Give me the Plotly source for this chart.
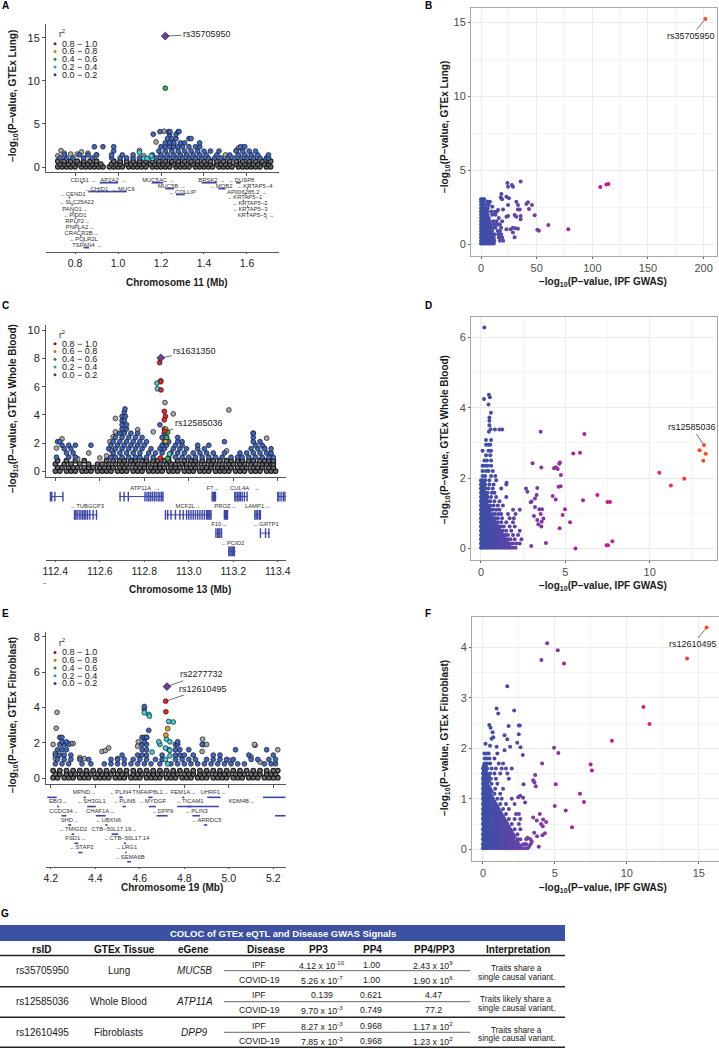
import plotly.graph_objects as go

W, H = 719, 1049
SANS = "Liberation Sans"

# ---------- Panel A: chr 11 locus, rows are {y: [Mb, ...]} ----------
a_band = {
 .02:[.72,.74,.76,.78,.8,.83,.85,.87,.89,.91,.93,.96,.98,1,1.02,1.05,1.07,1.09,1.11,1.13,1.16,1.18,1.2,1.22,1.24,1.27,1.29,1.31,1.33,1.36,1.38,1.4,1.42,1.44,1.47,1.49,1.51,1.53,1.56,1.58,1.6,1.62,1.64,1.66,1.69,1.71],
 .35:[.73,.75,.77,.79,.82,.84,.86,.88,.9,.92,.97,.99,1.01,1.04,1.06,1.08,1.1,1.12,1.15,1.17,1.19,1.21,1.23,1.26,1.28,1.3,1.32,1.35,1.37,1.39,1.41,1.43,1.46,1.48,1.5,1.52,1.55,1.57,1.59,1.61,1.63,1.65,1.68,1.7],
 .68:[.72,.75,.78,.81,.84,.87,.9,.98,1.01,1.04,1.07,1.1,1.13,1.16,1.19,1.22,1.25,1.28,1.31,1.34,1.37,1.4,1.43,1.46,1.49,1.52,1.55,1.58,1.61,1.64,1.67,1.7,1.71],
}
a_blue = {
 1.05:[.73,.76,.79,.84,.88,.97,1.01,1.04,1.07,1.1,1.18,1.21,1.24,1.27,1.3,1.33,1.36,1.39,1.42,1.45,1.48,1.51,1.54,1.57,1.6,1.63,1.66,1.69,1.7],
 1.4:[.75,.82,.86,.9,.97,1.02,1.07,1.16,1.2,1.23,1.26,1.29,1.32,1.35,1.38,1.41,1.46,1.52,1.56,1.59,1.62,1.65,1.7],
 1.85:[.98,1.19,1.22,1.25,1.28,1.31,1.34,1.37,1.4,1.43,1.47,1.55,1.58,1.61,1.64],
 2.35:[.89,.93,.98,1.2,1.22,1.24,1.26,1.28,1.3,1.33,1.36,1.38,1.57,1.59],
 2.8:[1.22,1.24,1.26,1.29,1.31,1.38],
 3.3:[1.23,1.25,1.27,1.33,1.34],
 3.8:[1.164,1.24,1.27],
 4.1:[1.195,1.235,1.242,1.28,1.284],
}
a_grey_x = [.735,.72,.78,.81,.86,.83,1.1,1.177,1.214,1.56,1.58,1.55,.9,.75,1.12,1.5]
a_grey_y = [1.9,1.3,1.5,1.5,1.6,1.75,1.9,2.9,4.15,2.2,2.3,1.9,1.4,1.6,1.3,1.4]
a_cyan_x = [1.1,1.12,1.135,1.16,1.155]
a_cyan_y = [1.7,1.0,1.0,1.0,1.3]
a_green_x, a_green_y = [1.22], [9.15]
a_lead_x, a_lead_y = [1.22], [15.2]

a_gene_names = ["CD151 →","AP2A2 →","MUC5AC →","BRSK2 →","←DUSP8","MUC5B →","←MOB2","←KRTAP5−4","←CHID1","←MUC6","←COLLIP","AP006285.2 →","←CEND1","←KRTAP5−1","←SLC25A22","←KRTAP5−2","PANO1→","←KRTAP5−3","←PIDD1","KRTAP5−5 →","RPLP2→","PNPLA2→","CRACR2B→","←POLR2L","TSPAN4 →"]
a_gene_label_mb = [.839,.978,1.188,1.436,1.575,1.25,1.48,1.637,.9,1.025,1.3,1.6,.79,1.59,.808,1.614,.8,1.614,.8,1.642,.812,.823,.83,.84,.857]
a_gene_track = [0,0,0,0,0,1,1,1,1.5,1.5,2,2,2.5,3,3.7,4,5,5,6,6,7,8,9,10,11]
a_gene_start = [.828,.915,1.156,1.389,1.55,1.22,1.467,1.6,.862,.905,1.27,1.59,.77,1.58,.784,1.6,.789,1.6,.8,1.69,.806,.816,.824,.836,.84]
a_gene_end = [.836,1.0,1.21,1.46,1.57,1.26,1.5,1.605,.913,1.04,1.31,1.595,.778,1.585,.79,1.605,.795,1.605,.805,1.693,.81,.82,.83,.84,.865]

# ---------- Panel B: scatter, rows {y: [x, ...]} ----------
b_rows = {
 .03:[0,1,2.5,4,5.5,7,8.5,10,11.5],
 .22:[0,1,2.5,4,5.5,7,8.5,10,12,17,20],
 .44:[0,1,2.5,4,5.5,7,8.5,10,11.5,16,18,19],
 .66:[0,1,2.5,4,5.5,7,8.5,10,12,15.5,18],
 .88:[0,1,2.5,4,5.5,7,8.5,10,15,17],
 1.1:[0,1,2.5,4,5.5,7,8.5,11,13,18],
 1.32:[0,1,2.5,4,5.5,7.5,9,12,15,17],
 1.54:[0,1,2.5,4,6,8,11,14,19],
 1.76:[0,1,2.5,4,5.5,7,16],
 1.98:[0,1,2.5,4,6,10,13],
 2.2:[0,1,2.5,4,5.5,9,14],
 2.42:[0,1,2.5,4,6],
 2.64:[0,1,2.5,4,7],
 2.86:[0,1,2.5,6,8],
 3.02:[0,1.5,3],
}
b_x = [201.5,107.2,112.6,114.4,78.4,60.5,50.6,52,35.6,23.7,24.3,27.8,28.7,48.2,45.8,42.2,40.7,43.1,35.6,35.6,33.2,34.8,31.7,33.2,30.2,31.7,28.7,31.1,33.2,26.6,28.7,30.2,22.8,22.8,24.3,24.3,25.1,22.8,18.3,17.7,18.9,19.8,15.3,12.3,10.2,6.3,2.4]
b_y = [15.2,3.85,4.03,4.05,1,1.28,.97,.9,4.23,4.12,3.87,3.99,3.87,1.94,2.63,2.82,2.7,2.36,1.89,1.67,2.34,2.34,2.86,2.63,1.96,1.85,1.1,1.06,1.04,1,.77,.45,1,1.85,1.89,2.63,3.09,3.2,3.38,3.15,3.02,2.34,2.3,2.18,2.52,2.8,3]

# ---------- Panel C: chr 13 locus (Mb above 112) ----------
c_base = 112.0
c_band = {
 .02:[.4,.42,.45,.47,.49,.52,.54,.56,.59,.61,.63,.65,.68,.7,.72,.75,.77,.79,.82,.84,.86,.88,.91,.93,.95,.98,1,1.02,1.05,1.07,1.09,1.12,1.14,1.16,1.18,1.21,1.23,1.25,1.28,1.3,1.32,1.35,1.37,1.39],
 .27:[.41,.43,.46,.48,.5,.53,.55,.57,.6,.62,.64,.66,.69,.71,.73,.76,.78,.8,.83,.85,.87,.89,.92,.94,.96,.99,1.01,1.03,1.06,1.08,1.1,1.13,1.15,1.17,1.19,1.22,1.24,1.26,1.29,1.31,1.33,1.36,1.38],
 .52:[.4,.44,.47,.51,.55,.59,.61,.64,.67,.7,.72,.75,.77,.8,.82,.85,.87,.9,.92,.94,.97,.99,1.02,1.04,1.07,1.1,1.12,1.15,1.18,1.2,1.23,1.25,1.28,1.3,1.33,1.35,1.37,1.38],
 .76:[.41,.45,.49,.53,.63,.66,.69,.71,.74,.76,.79,.81,.84,.86,.89,.91,.95,.98,1.01,1.03,1.06,1.09,1.11,1.14,1.17,1.19,1.22,1.24,1.27,1.29,1.32,1.34,1.36,1.38],
}
c_blue = {
 1.0:[.405,.46,.49,.65,.67,.7,.73,.76,.78,.81,.84,.91,.94,.97,1,1.03,1.06,1.09,1.12,1.15,1.19,1.22,1.24,1.27,1.3,1.33,1.36,1.38],
 1.3:[.45,.48,.66,.69,.72,.75,.78,.82,.85,.88,.92,.95,.98,1.02,1.05,1.08,1.11,1.16,1.23,1.26,1.29,1.32,1.35,1.37],
 1.6:[.44,.47,.64,.67,.7,.73,.76,.79,.83,.87,.89,.93,.96,.99,1.04,1.07,1.28,1.31,1.34,1.37],
 1.85:[.43,.46,.49,.56,.65,.68,.71,.74,.77,.8,.88,.9,.94,.97,1.04,1.09,1.3,1.33],
 2.1:[.41,.42,.66,.69,.72,.75,.78,.81,.89,.91,.95,.97,1.16,1.29,1.32],
 2.4:[.67,.7,.73,.76,.79,.88,.9,.95,1.29],
 2.7:[.69,.71,.74,.77,.89,1.29],
 3.0:[.7,.72,.89],
 3.3:[.7,.72,.87],
 3.6:[.7,.71],
 3.9:[.7,.715],
 4.2:[.71],
 4.42:[.713],
}
c_grey_x = [.43,.405,.67,.675,.67,.66,.645,.77,.84,.893,.93,1.18,1.35,1.29,1.34,1.17,.5,.55,.6,.63,.65]
c_grey_y = [2.3,1.65,3.75,2.7,2.8,2.45,2.1,2.95,2.8,4.87,4.07,4.35,2.35,2.7,1.65,1.45,.9,1.3,.95,1.1,1.5]
c_red_x = [.869,.874,.875,.89,.895,.89,.892,.872]
c_red_y = [7.7,6.35,5.77,4.25,3.9,3.65,2.85,.95]
c_orange_x = [.874,.896,.896]
c_orange_y = [6.42,3.0,2.13]
c_green_x = [.905,.9,.905]
c_green_y = [2.77,2.4,.9]
c_cyan_x = [.857,.859,.913]
c_cyan_y = [6.25,5.85,1.23]
c_lead_x, c_lead_y = [.874], [8.04]

c_gene_names = ["ATP11A  →","F7→","CUL4A   →","←TUBGCP3","MCF2L→","PROZ→","LAMP1→","F10→","←GRTP1","←PCID2"]
c_gene_label_mb = [.804,1.108,1.252,.543,.997,1.165,1.309,1.137,1.348,1.197]
c_gene_track = [0,0,0,1,1,1,1,2,2,3]
c_body_track = [0,0,0,0,0,1,1,1,1,2,2,3]
c_body_start = [.376,.688,1.103,1.205,1.398,.484,.893,1.157,1.294,1.12,1.32,1.177]
c_body_end = [.436,.886,1.123,1.264,1.437,.59,1.1,1.175,1.324,1.15,1.365,1.21]
c_exons = [
 [.378,.384,.398,.434],
 [.691,.709,.728,.803,.812,.82,.828,.836,.845,.853,.862,.87,.878,.884],
 [1.105,1.11,1.115,1.12],
 [1.207,1.212,1.22,1.226,1.232,1.24,1.25,1.262],
 [1.4,1.405,1.415,1.425,1.432],
 [.486,.492,.498,.507,.515,.523,.53,.537,.545,.555,.57,.585],
 [.895,.905,.92,.94,.96,.975,.99,1,1.01,1.02,1.03,1.04,1.05,1.06,1.07,1.08,1.085,1.09,1.095,1.1],
 [1.16,1.165,1.17,1.174],
 [1.297,1.303,1.31,1.318,1.322],
 [1.122,1.13,1.135,1.14,1.147],
 [1.322,1.345,1.36],
 [1.18,1.185,1.19,1.195,1.2,1.205],
]

# ---------- Panel D ----------
d_rows = {
 .02:[0,.1,.25,.4,.55,.7,.85,1,1.15,1.3,1.45,1.6,1.75,1.9,2.05],
 .08:[.05,.18,.32,.48,.62,.78,.92,1.08,1.22,1.38,1.52,1.68],
 .14:[0,.1,.25,.4,.55,.7,.85,1,1.15,1.3,1.45,1.6,1.75,1.9,2.1,2.3],
 .2:[.05,.18,.32,.48,.62,.78,.92,1.08,1.22,1.38,1.52],
 .26:[0,.1,.25,.4,.55,.7,.85,1,1.15,1.3,1.45,1.6,1.75,2,2.4],
 .32:[.05,.18,.32,.48,.62,.78,.92,1.08,1.22,1.38],
 .38:[0,.1,.25,.4,.55,.7,.85,1,1.15,1.3,1.45,1.6,1.9,2.2],
 .44:[.05,.18,.32,.48,.62,.78,.92,1.08,1.22],
 .5:[0,.1,.25,.4,.55,.7,.85,1,1.15,1.3,1.5,1.8,2.3],
 .56:[.05,.18,.32,.48,.62,.78,.92,1.08],
 .62:[0,.1,.25,.4,.55,.7,.85,1,1.15,1.35,1.7,2],
 .68:[.05,.18,.32,.48,.62,.78,.92],
 .74:[0,.1,.25,.4,.55,.7,.85,1,1.2,1.5,1.9],
 .8:[.05,.18,.32,.48,.62,.78],
 .86:[0,.1,.25,.4,.55,.7,.85,1,1.25,1.7,1.95],
 .92:[.05,.18,.32,.48,.62],
 .98:[0,.1,.25,.4,.55,.7,.85,1.05,1.2,1.6,2.05],
 1.04:[.05,.18,.32,.48],
 1.1:[0,.1,.25,.4,.55,.7,.9,1.1,1.9,2.3],
 1.16:[.05,.18,.32,.48],
 1.22:[0,.1,.25,.4,.55,.75,1,1.3],
 1.28:[.05,.18,.32],
 1.34:[0,.1,.25,.4,.55,.8,1.1],
 1.4:[.05,.18,.32],
 1.46:[0,.1,.25,.4,.6,.9,1.5],
 1.52:[.05,.18,.32],
 1.58:[0,.1,.25,.4,.65,.8],
 1.64:[.05,.18],
 1.7:[0,.1,.25,.45,.7,1.2],
 1.76:[.05,.18],
 1.82:[0,.1,.25,.5,.75,1.5],
 1.88:[.05,.18],
 1.94:[0,.1,.25,.5,.9],
 2.06:[.1,.25,.6,.85],
 2.2:[.1,.3,.45,.7],
 2.35:[.1,.25,.4,.6],
 2.5:[.2,.35,.6],
 2.65:[.3,.55],
 2.78:[.1,.45,.6],
 2.95:[.3,.45,.55],
 3.08:[.3,.6],
}
d_x = [.2,.18,.47,.53,.45,.59,.5,.5,.5,.47,.57,.83,1.09,1.26,3.54,6.13,5.47,5.87,3.06,3.58,4.33,4.45,4.68,4.64,4.74,4.55,4.4,4.6,4.72,3.34,2.67,2.75,3.3,3.2,3,2.95,4.25,4.43,6.05,6.9,7.5,7.65,3.2,3.46,3.62,3.54,3.14,3.7,3.34,3.6,3.4,3.58,4.98,4.84,5.28,4.66,3.85,2.98,5.6,7.45,7.53,7.79,10.57,11.26,12.05,12.96,13.22,13.32,13.18,1.52]
d_y = [6.28,4.25,4.37,4.3,4.09,3.86,3.72,3.63,3.5,3.32,3.39,3.38,3.38,3.38,3.32,3.25,2.7,2.72,2.42,2.3,2.28,2.3,2.44,2.41,2.09,2.26,2.3,1.75,1.77,1.72,1.7,1.61,1.52,1.42,1.33,1.31,1.49,1.39,1.37,1.52,1.32,1.32,1.18,1.11,1.11,.98,.92,.85,.81,.76,.69,.62,1.11,.95,.74,.57,.15,.07,0,.09,.09,.2,2.15,1.79,1.98,2.79,2.94,2.69,2.49,1.87]

# ---------- Panel E: chr 19 locus ----------
e_band = {
 .02:[4.21,4.23,4.26,4.28,4.3,4.33,4.35,4.37,4.4,4.42,4.44,4.46,4.49,4.51,4.53,4.56,4.58,4.6,4.63,4.65,4.67,4.69,4.72,4.74,4.76,4.79,4.81,4.83,4.86,4.88,4.9,4.93,4.95,4.97,4.99,5.02,5.04,5.06,5.09,5.11,5.13,5.16,5.18,5.2,5.22],
 .22:[4.22,4.24,4.27,4.29,4.31,4.34,4.36,4.38,4.41,4.43,4.45,4.47,4.5,4.52,4.54,4.57,4.59,4.61,4.64,4.66,4.68,4.7,4.73,4.75,4.77,4.8,4.82,4.84,4.87,4.89,4.91,4.94,4.96,4.98,5,5.03,5.05,5.07,5.1,5.12,5.14,5.17,5.19,5.21],
 .42:[4.21,4.24,4.27,4.3,4.33,4.36,4.39,4.42,4.45,4.48,4.51,4.54,4.57,4.6,4.63,4.66,4.69,4.72,4.75,4.78,4.81,4.84,4.87,4.9,4.93,4.96,4.99,5.02,5.05,5.08,5.11,5.14,5.17,5.2,5.22],
}
e_blue = {
 .8:[4.22,4.25,4.28,4.34,4.38,4.44,4.47,4.5,4.53,4.56,4.59,4.62,4.65,4.69,4.74,4.77,4.8,4.83,4.86,4.89,4.92,4.95,4.98,5.01,5.04,5.07,5.16,5.19,5.21],
 1.05:[4.23,4.26,4.29,4.33,4.37,4.47,4.5,4.53,4.57,4.6,4.63,4.67,4.7,4.76,4.79,4.82,4.85,4.9,4.93,4.96,4.99,5.02,5.1,5.13,5.18,5.21],
 1.3:[4.22,4.24,4.26,4.29,4.52,4.59,4.61,4.63,4.7,4.76,4.78,4.8,4.84,4.93,4.96,5.09,5.2],
 1.6:[4.23,4.25,4.27,4.61,4.63,4.73,4.76,4.78,4.82,5.03,5.17],
 1.9:[4.24,4.26,4.28,4.61,4.63,4.76,4.77,4.88],
 2.05:[4.25,4.27,4.62,4.77],
 2.3:[4.24,4.25,4.61,4.62,4.63,4.63],
 2.7:[4.64],
 3.9:[4.62],
 4.05:[4.62],
}
e_grey_x = [4.228,4.224,4.21,4.882,4.885,4.9,5.118,5.115,4.593,4.59,4.43,4.445,4.46,4.3,4.29,4.22,4.35,4.33,5.1,5.14,5.0,4.88,4.5,5.22,4.22]
e_grey_y = [3.72,2.82,1.9,2.2,1.9,1.9,1.85,1.9,2.05,1.8,1.5,1.55,1.7,1.95,1.95,1.4,1.1,1.15,1.2,.9,1,1.5,1.1,1.6,1.1]
e_cyan_x = [4.62,4.64,4.643,4.73,4.75,4.72,4.69,4.735,4.685,4.715,4.735,4.715,4.725,4.735,4.655]
e_cyan_y = [3.7,3.6,3.5,3.2,3.17,2.2,1.9,2.05,2.05,1.7,1.57,1.05,.8,1.25,1.47]
e_orange_x = [4.725,4.717]
e_orange_y = [2.8,2.43]
e_red_x = [4.716,4.717]
e_red_y = [4.35,3.75]
e_lead_x, e_lead_y = [4.722], [5.18]

e_gene_names = ["MPND→","←PLIN4","TNFAIP8L1→","FEM1A→","UHRF1→","EBI3→","←SH3GL1","←PLIN5","←MYDGF","←TICAM1","KDM4B→","CCDC94→","CHAF1A→","←DPP9","←PLIN3","SHD→","←UBXN6","←ARRDC5","←TMIGD2","CTB−50L17.19→","FSD1→","←CTB−50L17.14","←STAP2","←LRG1","←SEMA6B"]
e_gene_label_mb = [4.351,4.513,4.648,4.795,4.93,4.233,4.383,4.531,4.657,4.825,5.058,4.259,4.423,4.702,4.855,4.285,4.458,4.9,4.3,4.485,4.312,4.54,4.338,4.54,4.555]
e_gene_track = [0,0,0,0,0,1,1,1,1,1,1,2,2,2,2,3,3,3,4,4,5,5,6,6,7]
e_gene_start = [4.346,4.508,4.638,4.79,4.903,4.228,4.363,4.522,4.64,4.813,4.768,4.248,4.402,4.675,4.836,4.278,4.444,4.888,4.293,4.473,4.305,4.528,4.323,4.534,4.543]
e_gene_end = [4.357,4.523,4.657,4.8,4.963,4.237,4.402,4.537,4.672,4.833,4.955,4.27,4.447,4.725,4.87,4.291,4.455,4.903,4.305,4.503,4.323,4.538,4.342,4.541,4.56]
e_extra_track = [0,0,2]
e_extra_start = [4.184,5.153,5.208]
e_extra_end = [4.226,5.255,5.255]

# ---------- Panel F ----------
f_rows = {
 .02:[0,.12,.3,.5,.7,.9,1.1,1.3,1.5,1.7,1.9,2.1,2.3,2.5,2.7,2.9,3.1],
 .06:[.05,.2,.4,.6,.8,1,1.2,1.4,1.6,1.8,2,2.2,2.4,2.6],
 .1:[0,.12,.3,.5,.7,.9,1.1,1.3,1.5,1.7,1.9,2.1,2.3,2.5,2.8,3,3.3],
 .15:[.05,.2,.4,.6,.8,1,1.2,1.4,1.6,1.8,2,2.2,2.4],
 .2:[0,.12,.3,.5,.7,.9,1.1,1.3,1.5,1.7,1.9,2.1,2.4,2.6,3],
 .25:[.05,.2,.4,.6,.8,1,1.2,1.4,1.6,1.8,2,2.2],
 .3:[0,.12,.3,.5,.7,.9,1.1,1.3,1.5,1.7,1.9,2.1,2.4],
 .35:[.05,.2,.4,.6,.8,1,1.2,1.4,1.6,1.8,2],
 .4:[0,.12,.3,.5,.7,.9,1.1,1.3,1.5,1.7,1.9,2.2,2.6],
 .45:[.05,.2,.4,.6,.8,1,1.2,1.4,1.6,1.8],
 .5:[0,.12,.3,.5,.7,.9,1.1,1.3,1.5,1.7,2,2.5],
 .55:[.05,.2,.4,.6,.8,1,1.2,1.4,1.6],
 .6:[0,.12,.3,.5,.7,.9,1.1,1.3,1.5,1.8,2.2,2.6],
 .65:[.05,.2,.4,.6,.8,1,1.2,1.4],
 .7:[0,.12,.3,.5,.7,.9,1.1,1.3,1.6,2.3,2.5],
 .75:[.05,.2,.4,.6,.8,1,1.2],
 .8:[0,.12,.3,.5,.7,.9,1.1,1.4,1.8],
 .85:[.05,.2,.4,.6,.8,1],
 .9:[0,.12,.3,.5,.7,.9,1.2,1.6,2.2],
 .95:[.05,.2,.4,.6,.8],
 1.0:[0,.12,.3,.5,.7,1,1.3,2],
 1.05:[.05,.2,.4,.6],
 1.1:[0,.12,.3,.5,.8,1.2],
 1.15:[.05,.2,.4,.6],
 1.2:[0,.12,.3,.5,.85,1.4],
 1.25:[.05,.2,.4],
 1.3:[0,.12,.3,.6,1],
 1.35:[.05,.2,.4],
 1.4:[0,.12,.3,.55,.9,1.8],
 1.45:[.05,.2,.4],
 1.5:[0,.12,.3,.5,.8,1.2,1.7],
 1.55:[.05,.2],
 1.6:[0,.12,.3,.6,.9,1.3,1.6],
 1.65:[.05,.2],
 1.7:[.12,.3,.5,1.1,1.4],
 1.8:[.12,.25,.45,.8],
 1.9:[.1,.25,.4,1],
}
f_x = [15.54,14.18,11.15,11.57,8.96,7.48,7.57,6.74,7.02,5.75,6.19,4.99,4.46,5.2,4.06,5.63,1.69,.95,1.06,2.17,1.78,2.49,2.56,2.49,1.5,1.69,2.38,2.61,1.89,2.77,1.5,4.94,5.24,4.11,3.63,3.49,3.58,3.67,2.82,5.06,2,2.59,2.79,2.93,2.45,3.95,3.49,3.74,4.18,4.39,4.04,4.16,3.56,3.76,4.3,4.13,3.88,.44,.53,.67,.72,.6,.18,.49,.95,3.1,3.3,3.4,2.95,3.2]
f_y = [4.39,3.78,2.82,2.48,2.15,1.68,1.56,1.1,.94,.77,.44,.86,4.08,3.94,3.75,3.68,3.23,2.79,2.69,2.75,2.44,2.45,2.45,2.28,2.26,2.18,2.11,2.02,2.03,1.87,1.96,2.01,1.91,1.7,1.47,1.37,1.33,1.25,1.29,1.29,1.6,1.06,1.02,.93,1.03,.7,.63,.57,.59,.54,.5,.46,.33,.26,.32,.28,.05,2.46,2.41,2.32,2.22,2.19,2.09,2.05,2.03,.23,.2,.15,.1,.05]

# ---------- Panel G: table ----------
t_title = "COLOC of GTEx eQTL and Disease GWAS Signals"
t_columns = ["rsID","GTEx Tissue","eGene","Disease","PP3","PP4","PP4/PP3","Interpretation"]
t_rsid = ["rs35705950","rs12585036","rs12610495"]
t_tissue = ["Lung","Whole Blood","Fibroblasts"]
t_egene = ["MUC5B","ATP11A","DPP9"]
t_disease = ["IPF","COVID-19"]
t_pp3 = ["4.12 x 10<sup>-10</sup>","5.26 x 10<sup>-7</sup>","0.139","9.70 x 10<sup>-3</sup>","8.27 x 10<sup>-3</sup>","7.85 x 10<sup>-3</sup>"]
t_pp4 = ["1.00","1.00","0.621","0.749","0.968","0.968"]
t_ratio = ["2.43 x 10<sup>9</sup>","1.90 x 10<sup>6</sup>","4.47","77.2","1.17 x 10<sup>2</sup>","1.23 x 10<sup>2</sup>"]
t_interp = [["Traits share a","single causal variant."],["Traits likely share a","single causal variant."],["Traits share a","single causal variant."]]

r2_labels = ["0.8 − 1.0","0.6 − 0.8","0.4 − 0.6","0.2 − 0.4","0.0 − 0.2"]

# ---------- styles ----------
BLUE, GREY, BAND = "#3f68c4", "#a8a8a8", "#6e6e6e"
CYAN, GREEN, ORANGE, RED, PURPLE = "#3fd0d8", "#30b848", "#f0a020", "#ee2222", "#6f3f9f"
LEG = ["#8b1a1a", "#c57f12", "#2b8a3e", "#3a9aa0", "#333d86"]
GENE = "#3c46a8"
SCALE = [[0, "#3a50a8"], [.25, "#7b3aa6"], [.5, "#c0189c"], [.75, "#f01a6c"], [1, "#ff4a1a"]]
TXT = "#1a1a1a"
GENE_FONT = 5.9


def expand(rows, base=0.0):
    xs, ys = [], []
    for y, vals in rows.items():
        for v in vals:
            xs.append(v + base)
            ys.append(y)
    return xs, ys


def dom_x(l, r):
    return [l / W, r / W]


def dom_y(t, b):
    return [1 - b / H, 1 - t / H]


fig = go.Figure()
annots, shapes = [], []


def txt(x, y, s, size=9, color=TXT, anchor="center", angle=0):
    annots.append(dict(x=x / W, y=1 - y / H, xref="paper", yref="paper", text=s, showarrow=False,
                       xanchor=anchor, yanchor="middle", textangle=angle,
                       font=dict(family=SANS, size=size, color=color)))


def hline(x0, x1, y, color="#222", width=1.5):
    shapes.append(dict(type="line", xref="paper", yref="paper", x0=x0 / W, x1=x1 / W,
                       y0=1 - y / H, y1=1 - y / H, line=dict(color=color, width=width)))


def pts(xs, ys, color, ax, size=4.8, symbol="circle", lw=.7):
    fig.add_trace(go.Scatter(x=xs, y=ys, mode="markers", xaxis=ax[0], yaxis=ax[1], cliponaxis=False,
                             marker=dict(color=color, size=size, symbol=symbol,
                                         line=dict(color="#15151c", width=lw))))


def leader(x, y, dx, dy, s, ax):
    annots.append(dict(x=x, y=y, xref=ax[0], yref=ax[1], ax=dx, ay=dy, text=s, showarrow=True,
                       arrowhead=0, arrowwidth=.7, arrowcolor="#333", standoff=2,
                       font=dict(family=SANS, size=9, color=TXT)))


def legend(top):
    txt(62, top, "r<sup>2</sup>", 8.5)
    for i, lab in enumerate(r2_labels):
        yy = top + 9.7 + 7.75 * i
        shapes.append(dict(type="circle", xref="paper", yref="paper",
                           x0=53.5 / W, x1=56.5 / W, y0=1 - (yy + 1.5) / H, y1=1 - (yy - 1.5) / H,
                           fillcolor=LEG[i], line=dict(width=0)))
        txt(60, yy, lab, 9, anchor="left")


def gene_bars(starts, ends, tracks, off, ax, width, base=0.0):
    xs, ys = [], []
    for s, e, t in zip(starts, ends, tracks):
        xs += [s + base, e + base, None]
        ys += [t + off, t + off, None]
    fig.add_trace(go.Scatter(x=xs, y=ys, mode="lines", xaxis=ax[0], yaxis=ax[1],
                             line=dict(color=GENE, width=width)))


def gene_text(xs, tracks, names, ax, size=GENE_FONT):
    fig.add_trace(go.Scatter(x=xs, y=tracks, text=names, mode="text", xaxis=ax[0], yaxis=ax[1], cliponaxis=False,
                             textposition="middle center",
                             textfont=dict(family=SANS, size=size, color="#333")))


AX_COL = "#555555"
layout_axes = {}


def locus_axes(n, l, r, top, mid, bot, xr, yr, ytv, gr, xtv, fs=11):
    """n: index of the upper axes; n+1: the gene track axes below it."""
    sx = "" if n == 1 else str(n)
    s2 = str(n + 1)
    layout_axes["xaxis" + sx] = dict(domain=dom_x(l, r), range=xr, anchor="y" + sx, showgrid=False, zeroline=False,
                                     showline=True, linecolor=AX_COL, linewidth=1, ticks="outside", ticklen=3,
                                     tickcolor=AX_COL, tickvals=xtv, showticklabels=False)
    layout_axes["yaxis" + sx] = dict(domain=dom_y(top, mid), range=yr, anchor="x" + sx, showgrid=False, zeroline=False,
                                     showline=True, linecolor=AX_COL, linewidth=1, ticks="outside", ticklen=3,
                                     tickcolor=AX_COL, tickvals=ytv,
                                     tickfont=dict(family=SANS, size=fs, color="#222"))
    layout_axes["xaxis" + s2] = dict(domain=dom_x(l, r), range=xr, anchor="y" + s2, showgrid=False, zeroline=False,
                                     showline=True, linecolor=AX_COL, linewidth=1, ticks="outside", ticklen=1,
                                     tickcolor=AX_COL, tickvals=xtv, tickformat=".1f",
                                     tickfont=dict(family=SANS, size=10.5, color="#222"))
    layout_axes["yaxis" + s2] = dict(domain=dom_y(mid, bot), range=gr, anchor="x" + s2, visible=False)


def scatter_axes(n, l, r, t, b, xr, yr, xtv, ytv, xminor, yminor):
    s = str(n)
    common = dict(showgrid=True, gridcolor="#ececec", gridwidth=1, zeroline=False, showline=True, mirror=True,
                  linecolor="#a8a8a8", linewidth=1, ticks="outside", ticklen=2, tickcolor="#666",
                  tickfont=dict(family=SANS, size=11, color="#4d4d4d"))
    layout_axes["xaxis" + s] = dict(domain=dom_x(l, r), range=xr, anchor="y" + s, tickvals=xtv,
                                    minor=dict(tickvals=xminor, showgrid=True, gridcolor="#f5f5f5", ticks=""), **common)
    layout_axes["yaxis" + s] = dict(domain=dom_y(t, b), range=yr, anchor="x" + s, tickvals=ytv,
                                    minor=dict(tickvals=yminor, showgrid=True, gridcolor="#f5f5f5", ticks=""), **common)


def cloud(rows, xs, ys, ax, size=4):
    rx, ry = expand(rows)
    ax_x, ax_y = rx + xs, ry + ys
    fig.add_trace(go.Scatter(x=ax_x, y=ax_y, mode="markers", xaxis=ax[0], yaxis=ax[1],
                             marker=dict(size=size, color=ax_x, colorscale=SCALE, line=dict(width=0), showscale=False)))


# ---------- A ----------
locus_axes(1, 46, 279, 24, 172, 252, [.665, 1.749], [-.58, 16.6], [0, 5, 10, 15], [12.15, -1.4], [.8, 1, 1.2, 1.4, 1.6])
A, Ag = ("x", "y"), ("x2", "y2")
gene_bars(a_gene_start, a_gene_end, a_gene_track, .42, Ag, 1.6)
gene_text(a_gene_label_mb, a_gene_track, a_gene_names, Ag)
x, y = expand(a_band); pts(x, y, BAND, A, 4.6, lw=1.1)
pts(a_grey_x, a_grey_y, GREY, A)
x, y = expand(a_blue); pts(x, y, BLUE, A)
pts(a_cyan_x, a_cyan_y, CYAN, A)
pts(a_green_x, a_green_y, GREEN, A)
pts(a_lead_x, a_lead_y, PURPLE, A, 6, "diamond")
leader(a_lead_x[0], a_lead_y[0], 41.7, -2, "rs35705950", A)
legend(34)

# ---------- B ----------
scatter_axes(3, 471, 717, 8, 256, [-9, 212], [-.81, 15.95], [0, 50, 100, 150, 200], [0, 5, 10, 15],
             [25, 75, 125, 175], [2.5, 7.5, 12.5])
B = ("x3", "y3")
cloud(b_rows, b_x, b_y, B)
leader(b_x[0], b_y[0], -14, 17, "rs35705950", B)

# ---------- C ----------
locus_axes(4, 46, 286, 325, 477, 560, [112.358, 113.437], [-.4, 10.37], [0, 2, 4, 6, 8, 10], [3.92, -.62],
           [112.4, 112.6, 112.8, 113.0, 113.2, 113.4])
C, Cg = ("x4", "y4"), ("x5", "y5")
gene_bars(c_body_start, c_body_end, c_body_track, .45, Cg, 1, c_base)
ex_x, ex_y = [], []
for trk, ex in zip(c_body_track, c_exons):
    for v in ex:
        ex_x.append(v + c_base)
        ex_y.append(trk + .45)
fig.add_trace(go.Scatter(x=ex_x, y=ex_y, mode="markers", xaxis=Cg[0], yaxis=Cg[1],
                         marker=dict(symbol="line-ns", size=7, line=dict(color=GENE, width=1.4))))
gene_text([v + c_base for v in c_gene_label_mb], c_gene_track, c_gene_names, Cg)
x, y = expand(c_band, c_base); pts(x, y, BAND, C, 4.6, lw=1.1)
pts([v + c_base for v in c_grey_x], c_grey_y, GREY, C)
x, y = expand(c_blue, c_base); pts(x, y, BLUE, C)
pts([v + c_base for v in c_cyan_x], c_cyan_y, CYAN, C)
pts([v + c_base for v in c_orange_x], c_orange_y, ORANGE, C)
pts([v + c_base for v in c_green_x], c_green_y, GREEN, C)
pts([v + c_base for v in c_red_x], c_red_y, RED, C)
pts([v + c_base for v in c_lead_x], c_lead_y, PURPLE, C, 6, "diamond")
leader(c_lead_x[0] + c_base, c_lead_y[0], 34, -6.6, "rs1631350", C)
leader(c_red_x[6] + c_base, c_red_y[6], 34, -8.4, "rs12585036", C)
legend(334)
txt(45, 583, "−", 6)

# ---------- D ----------
scatter_axes(6, 471, 717, 317, 560, [-.59, 13.99], [-.33, 6.58], [0, 5, 10], [0, 2, 4, 6],
             [2.5, 7.5, 12.5], [1, 3, 5])
D = ("x6", "y6")
cloud(d_rows, d_x, d_y, D)
leader(13.22, 2.94, -12.3, -17.7, "rs12585036", D)

# ---------- E ----------
locus_axes(7, 46, 286, 632, 784, 867, [4.178, 5.257], [-.34, 8.27], [0, 2, 4, 6, 8], [8.07, -.95],
           [4.2, 4.4, 4.6, 4.8, 5.0, 5.2])
E, Eg = ("x7", "y7"), ("x8", "y8")
gene_bars(e_gene_start, e_gene_end, e_gene_track, .5, Eg, 1.6)
gene_bars(e_extra_start, e_extra_end, e_extra_track, .5, Eg, 1.6)
gene_text(e_gene_label_mb, e_gene_track, e_gene_names, Eg)
x, y = expand(e_band); pts(x, y, BAND, E, 4.6, lw=1.1)
pts(e_grey_x, e_grey_y, GREY, E)
x, y = expand(e_blue); pts(x, y, BLUE, E)
pts(e_cyan_x, e_cyan_y, CYAN, E)
pts(e_orange_x, e_orange_y, ORANGE, E)
pts(e_red_x, e_red_y, RED, E)
pts(e_lead_x, e_lead_y, PURPLE, E, 6, "diamond")
leader(e_lead_x[0], e_lead_y[0], 34.7, -12.3, "rs2277732", E)
leader(e_red_x[0], e_red_y[0], 37.4, -12.7, "rs12610495", E)
legend(642.7)

# ---------- F ----------
scatter_axes(9, 472, 719, 617, 861, [-.76, 16.4], [-.23, 4.6], [0, 5, 10, 15], [0, 1, 2, 3, 4],
             [2.5, 7.5, 12.5], [.5, 1.5, 2.5, 3.5])
F = ("x9", "y9")
cloud(f_rows, f_x, f_y, F)
leader(f_x[0], f_y[0], -13.7, 16.7, "rs12610495", F)

# ---------- axis titles, letters ----------
LOG = "<b>−log<sub>10</sub>(P−value, %s)</b>"
for (xx, yy, lab) in [(13, 96, "GTEx Lung"), (13, 409, "GTEx Whole Blood"), (13, 715, "GTEx Fibroblast"),
                      (445, 127, "GTEx Lung"), (445, 440, "GTEx Whole Blood"), (445, 738, "GTEx Fibroblast")]:
    txt(xx, yy, LOG % lab, 10, angle=-90)
for yy in (282, 586, 888):
    txt(603, yy, LOG % "IPF GWAS", 10)
for (xx, yy, lab) in [(177, 282, "11"), (180, 589, "13"), (172, 887, "19")]:
    txt(xx, yy, "<b>Chromosome %s (Mb)</b>" % lab, 10)
for (xx, yy, lab) in [(5, 5, "A"), (428, 5, "B"), (5, 305, "C"), (428, 305, "D"), (5, 613, "E"), (428, 613, "F"), (5, 913, "G")]:
    txt(xx, yy, "<b>%s</b>" % lab, 10, color="#000")

# ---------- G ----------
shapes.append(dict(type="rect", xref="paper", yref="paper", x0=0, x1=565 / W, y0=1 - 941 / H, y1=1 - 925 / H,
                   fillcolor="#3d51a3", line=dict(width=0)))
txt(283, 933, "<b>%s</b>" % t_title, 9.5, color="white")
col_x = [41, 124, 193, 266, 318, 372, 434, 518]
for cx, name in zip(col_x, t_columns):
    txt(cx, 949.5, "<b>%s</b>" % name, 10, color="#111")
hline(0, 565, 955.5)
row_tops = [965, 995, 1026]
row_bottoms = [979.5, 1010, 1040.7]
row_mid = [970, 1001, 1032]
row_line = [986.7, 1017.3, 1047.3]
thin = [970.7, 1001.7, 1032.3]
interp_y = [(968.3, 976.7), (999, 1007.7), (1029.7, 1037.7)]
for i in range(3):
    txt(42, row_mid[i], t_rsid[i], 10)
    txt(119, row_mid[i], t_tissue[i], 10)
    txt(195, row_mid[i], "<i>%s</i>" % t_egene[i], 10)
    for j, yy in enumerate((row_tops[i], row_bottoms[i])):
        k = 2 * i + j
        txt(259, yy, t_disease[j], 8.8)
        txt(322, yy, t_pp3[k], 8.8)
        txt(371, yy, t_pp4[k], 8.8)
        txt(433, yy, t_ratio[k], 8.8)
    txt(516, interp_y[i][0], t_interp[i][0], 8.3)
    txt(516, interp_y[i][1], t_interp[i][1], 8.3)
    hline(224, 470, thin[i], color="#666", width=1)
    hline(0, 565, row_line[i])

fig.update_layout(width=W, height=H, margin=dict(l=0, r=0, t=0, b=0, autoexpand=False), autosize=False, showlegend=False,
                  paper_bgcolor="white", plot_bgcolor="white", annotations=annots, shapes=shapes,
                  hovermode=False, **layout_axes)
fig.write_html("out.html", config={"displayModeBar": False},
               post_script="document.body.style.margin='0';document.body.style.overflow='hidden';")
